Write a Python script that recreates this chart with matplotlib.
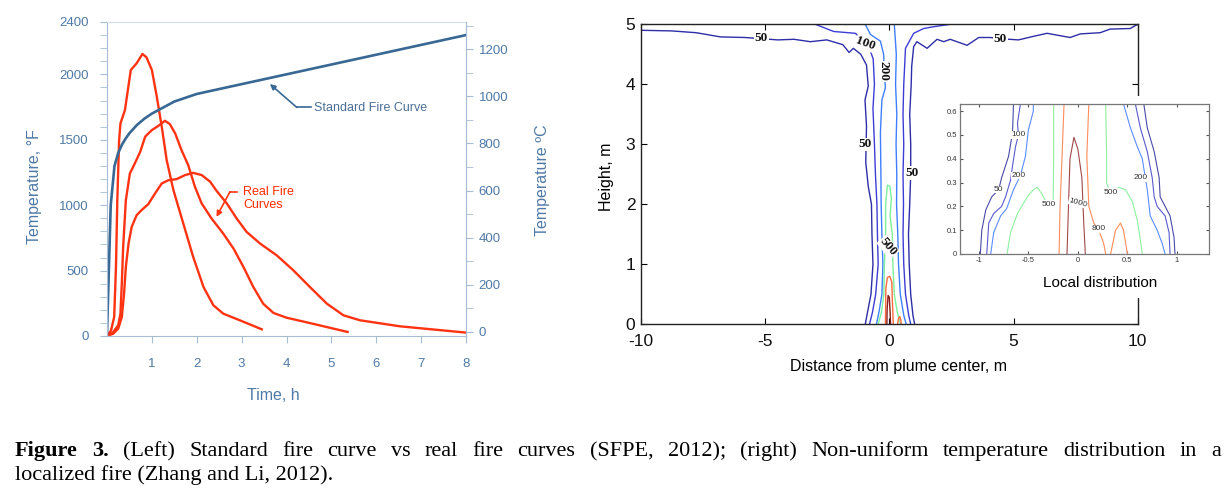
import matplotlib
matplotlib.use('Agg')
import matplotlib.pyplot as plt
from matplotlib.patches import Rectangle
from matplotlib.ticker import MultipleLocator

plt.rcParams['font.family'] = ['Liberation Sans', 'DejaVu Sans']
plt.rcParams['axes.unicode_minus'] = False

W, H = 1231, 500

# ---------------- left panel data (time in h, temperature in degF)
std_t = [0, 0.083, 0.167, 0.25, 0.333, 0.417, 0.5, 0.667, 0.833, 1, 1.5, 2, 3, 4, 5, 6, 7, 8]
std_T = [20, 1000, 1300, 1399, 1462, 1510, 1550, 1613, 1661, 1700, 1792, 1850, 1925, 2000, 2075, 2150, 2225, 2300]

fire1_t = [0, 0.09, 0.16, 0.20, 0.23, 0.27, 0.30, 0.40, 0.53, 0.66, 0.79, 0.88, 1.00, 1.11, 1.22,
           1.33, 1.48, 1.70, 1.92, 2.15, 2.37, 2.59, 2.96, 3.45]
fire1_T = [0, 43, 145, 528, 1038, 1497, 1625, 1727, 2033, 2084, 2156, 2130, 2033, 1829, 1600,
           1344, 1115, 860, 605, 375, 235, 171, 120, 51]

fire2_t = [0, 0.14, 0.25, 0.30, 0.33, 0.36, 0.42, 0.51, 0.62, 0.74, 0.85, 1.00, 1.14, 1.29, 1.40,
           1.52, 1.66, 1.81, 1.96, 2.11, 2.33, 2.59, 2.82, 3.04, 3.26, 3.48, 3.71, 4.00, 4.52, 5.36]
fire2_T = [0, 31, 82, 171, 400, 681, 1038, 1242, 1319, 1408, 1523, 1574, 1605, 1645, 1620,
           1548, 1421, 1306, 1140, 1013, 898, 783, 668, 528, 375, 247, 176, 140, 99, 31]

fire3_t = [0, 0.14, 0.25, 0.33, 0.38, 0.42, 0.48, 0.55, 0.66, 0.77, 0.92, 1.07, 1.22, 1.37, 1.55,
           1.74, 1.92, 2.11, 2.30, 2.44, 2.67, 2.89, 3.11, 3.41, 3.78, 4.15, 4.52, 4.90, 5.27, 5.64,
           6.53, 8.0]
fire3_T = [0, 18, 56, 145, 324, 528, 707, 834, 923, 962, 1008, 1089, 1166, 1191, 1199,
           1230, 1247, 1230, 1179, 1110, 1013, 898, 796, 707, 617, 503, 375, 247, 158, 120,
           74, 26]

time_ticks = [1, 2, 3, 4, 5, 6, 7, 8]
degF_ticks = [0, 500, 1000, 1500, 2000, 2400]
degC_ticks = [0, 200, 400, 600, 800, 1000, 1200]

# ---------------- right panel contour lines (x in m, height in m)
m50_left = [(-10, 4.9), (-8.77, 4.89), (-7.78, 4.86), (-6.8, 4.79), (-5.81, 4.78), (-4.49, 4.74),
            (-3.84, 4.75), (-3.18, 4.71), (-2.52, 4.74), (-1.87, 4.66), (-1.62, 4.53), (-1.45, 4.6),
            (-1.15, 4.5), (-0.92, 4.32), (-0.85, 3.97), (-0.98, 3.74), (-0.92, 3.3), (-0.95, 2.7),
            (-0.85, 2.3), (-0.72, 2.0), (-0.7, 1.5), (-0.66, 1.0), (-0.74, 0.5), (-0.88, 0.2), (-0.97, 0)]
m100_left = [(-2.98, 5.0), (-2.24, 4.88), (-1.37, 4.85), (-1.1, 4.75), (-0.8, 4.6), (-0.65, 4.42),
             (-0.6, 4.0), (-0.66, 3.6), (-0.6, 3.0), (-0.56, 2.5), (-0.5, 2.0), (-0.48, 1.5),
             (-0.45, 1.0), (-0.55, 0.5), (-0.68, 0.2), (-0.8, 0)]
m200_left = [(-0.97, 5.0), (-0.76, 4.83), (-0.36, 4.72), (-0.23, 4.5), (-0.2, 4.2), (-0.16, 3.94),
             (-0.3, 3.74), (-0.36, 3.2), (-0.34, 2.5), (-0.33, 2.0), (-0.3, 1.5), (-0.26, 1.0),
             (-0.3, 0.5), (-0.42, 0.2), (-0.52, 0)]
m200_right = [(0.2, 5.0), (0.28, 4.5), (0.25, 4.0), (0.3, 3.5), (0.27, 3.0), (0.3, 2.5), (0.29, 2.0),
              (0.34, 1.5), (0.37, 1.0), (0.44, 0.5), (0.58, 0.15), (0.68, 0)]
m100_right = [(2.45, 5.0), (1.79, 4.96), (1.38, 4.93), (0.98, 4.85), (0.65, 4.6), (0.58, 4.0),
              (0.55, 3.5), (0.58, 3.0), (0.55, 2.5), (0.57, 2.0), (0.55, 1.5), (0.58, 1.0),
              (0.65, 0.5), (0.78, 0.15), (0.86, 0)]
m50_right = [(10.0, 5.0), (9.7, 4.93), (8.89, 4.92), (8.49, 4.86), (7.69, 4.84), (7.28, 4.78),
             (6.35, 4.85), (5.81, 4.8), (5.2, 4.74), (4.47, 4.76), (4.07, 4.78), (3.6, 4.78),
             (3.13, 4.65), (2.45, 4.75), (2.19, 4.71), (1.92, 4.75), (1.52, 4.6), (1.11, 4.71),
             (0.98, 4.63), (0.9, 4.3), (0.88, 4.0), (0.82, 3.5), (0.86, 3.0), (0.86, 2.5),
             (0.82, 2.0), (0.77, 1.5), (0.8, 1.0), (0.86, 0.5), (0.95, 0.15), (1.02, 0)]
m500 = [(-0.45, 0), (-0.32, 0.2), (-0.22, 0.5), (-0.2, 1.0), (-0.15, 1.5), (-0.15, 2.0), (-0.08, 2.32),
        (0.02, 2.3), (0.08, 2.1), (0.03, 1.8), (0.12, 1.5), (0.14, 1.0), (0.2, 0.5), (0.32, 0.2),
        (0.45, 0)]
m800 = [(-0.16, 0), (-0.15, 0.3), (-0.14, 0.6), (-0.08, 0.78), (0.02, 0.8), (0.1, 0.7), (0.12, 0.4),
        (0.15, 0.1), (0.16, 0)]
m800_bump = [(0.33, 0), (0.37, 0.1), (0.42, 0.13), (0.46, 0.08), (0.48, 0)]
m1000 = [(-0.1, 0), (-0.09, 0.25), (-0.05, 0.48), (0.0, 0.45), (0.03, 0.2), (0.05, 0)]

# inset (local distribution)
i50_left = [(-0.985, 0), (-0.97, 0.10), (-0.93, 0.185), (-0.87, 0.24), (-0.8, 0.27), (-0.77, 0.32),
            (-0.7, 0.41), (-0.66, 0.51), (-0.65, 0.63)]
i100_left = [(-0.92, 0), (-0.9, 0.13), (-0.85, 0.17), (-0.77, 0.2), (-0.73, 0.24), (-0.68, 0.31),
             (-0.66, 0.37), (-0.63, 0.45), (-0.6, 0.5), (-0.61, 0.55), (-0.58, 0.63)]
i200_left = [(-0.88, 0), (-0.85, 0.09), (-0.78, 0.16), (-0.72, 0.19), (-0.65, 0.27), (-0.58, 0.33),
             (-0.53, 0.41), (-0.5, 0.52), (-0.45, 0.6), (-0.45, 0.63)]
i500_left = [(-0.715, 0), (-0.68, 0.09), (-0.61, 0.17), (-0.51, 0.24), (-0.45, 0.27), (-0.41, 0.28),
             (-0.36, 0.25), (-0.3, 0.2), (-0.25, 0.22), (-0.245, 0.4), (-0.245, 0.63)]
i800_left = [(-0.19, 0), (-0.18, 0.2), (-0.16, 0.41), (-0.14, 0.63)]
i1000 = [(-0.11, 0), (-0.09, 0.27), (-0.08, 0.4), (-0.04, 0.49), (0.0, 0.44), (0.04, 0.32),
         (0.06, 0.12), (0.075, 0)]
i800_right = [(0.11, 0.63), (0.09, 0.41), (0.11, 0.2), (0.16, 0.13), (0.21, 0.1), (0.26, 0.045), (0.28, 0)]
i800_bump = [(0.33, 0), (0.38, 0.1), (0.43, 0.13), (0.46, 0.1), (0.5, 0)]
i500_right = [(0.28, 0.63), (0.29, 0.41), (0.29, 0.3), (0.33, 0.25), (0.41, 0.28), (0.48, 0.27),
              (0.55, 0.22), (0.6, 0.14), (0.63, 0.06), (0.65, 0)]
i200_right = [(0.46, 0.63), (0.53, 0.53), (0.6, 0.45), (0.65, 0.4), (0.68, 0.32), (0.7, 0.27),
              (0.73, 0.16), (0.8, 0.1), (0.85, 0.045), (0.88, 0)]
i100_right = [(0.58, 0.63), (0.63, 0.53), (0.7, 0.43), (0.75, 0.32), (0.77, 0.24), (0.8, 0.2),
              (0.88, 0.16), (0.92, 0.09), (0.93, 0)]
i50_right = [(0.665, 0.63), (0.7, 0.53), (0.77, 0.43), (0.82, 0.32), (0.83, 0.24), (0.88, 0.2),
             (0.93, 0.16), (0.97, 0.07), (0.98, 0)]

caption1 = ("Figure 3. (Left) Standard fire curve vs real fire curves (SFPE, 2012); (right) "
            "Non-uniform temperature distribution in a")
caption2 = "localized fire (Zhang and Li, 2012)."


def px_box(x0, y0, x1, y1):
    return [x0 / W, 1 - y1 / H, (x1 - x0) / W, (y1 - y0) / H]


fig = plt.figure(figsize=(W / 100, H / 100), dpi=100)

# ================= left panel
spine_c = '#a9bcd5'
lab_c = '#4f79a6'
axL = fig.add_axes(px_box(107, 22, 466, 336))
axL.plot(fire1_t, fire1_T, color='#ff3311', lw=1.7, solid_joinstyle='round')
axL.plot(fire2_t, fire2_T, color='#ff3311', lw=1.7, solid_joinstyle='round')
axL.plot(fire3_t, fire3_T, color='#ff3311', lw=1.7, solid_joinstyle='round')
axL.plot(std_t, std_T, color='#386893', lw=1.9, solid_joinstyle='round')
axL.set_xlim(0, 8)
axL.set_ylim(0, 2400)
axL.set_xticks(time_ticks)
axL.set_yticks(degF_ticks)
axL.yaxis.set_minor_locator(MultipleLocator(100))
for s in axL.spines.values():
    s.set_color(spine_c)
axL.spines['top'].set_color('#d3dde9')
axL.tick_params(axis='both', which='both', direction='out', color=spine_c, labelcolor=lab_c,
                labelsize=9.5, length=5)
axL.tick_params(axis='x', pad=11)
axL.tick_params(axis='y', pad=8)

axC = axL.twinx()
axC.set_ylim((0 - 32) / 1.8, (2400 - 32) / 1.8)
axC.set_yticks(degC_ticks)
axC.yaxis.set_minor_locator(MultipleLocator(100))
for name, s in axC.spines.items():
    s.set_visible(name == 'right')
    s.set_color(spine_c)
axC.tick_params(axis='y', which='both', direction='out', color=spine_c, labelcolor=lab_c,
                labelsize=9.5, length=5, pad=4)

# annotations
blue_txt = '#4a6f97'
axL.plot([4.23, 4.55], [1747, 1747], color='#386893', lw=1.2)
axL.annotate('', xy=(3.63, 1926), xytext=(4.23, 1747),
             arrowprops=dict(arrowstyle='-|>', color='#386893', lw=1.2, mutation_scale=8,
                             shrinkA=0, shrinkB=0))
axL.text(4.62, 1745, 'Standard Fire Curve', color=blue_txt, fontsize=9, va='center')
axL.plot([2.89, 2.74], [1102, 1102], color='#ff3311', lw=1.2)
axL.annotate('', xy=(2.44, 911), xytext=(2.74, 1102),
             arrowprops=dict(arrowstyle='-|>', color='#ff3311', lw=1.2, mutation_scale=8,
                             shrinkA=0, shrinkB=0))
axL.text(3.04, 1050, 'Real Fire\nCurves', color='#ff2a00', fontsize=9, va='center',
         linespacing=1.1)

fig.text(35 / W, 1 - 187 / H, 'Temperature, \u00b0F', rotation=90, ha='center', va='center',
         color=lab_c, fontsize=11.5)
fig.text(543 / W, 1 - 180 / H, 'Temperature \u00baC', rotation=90, ha='center', va='center',
         color=lab_c, fontsize=11.5)
fig.text(273 / W, 1 - 396 / H, 'Time, h', ha='center', va='center', color=lab_c, fontsize=11.5)

# ================= right panel
c50, c100, c200 = '#2e2ea8', '#3c3cd6', '#3f7fff'
c500, c800, c1000 = '#7cf09a', '#ff6a3d', '#8b1a1a'
axM = fig.add_axes(px_box(641, 24.3, 1137.7, 324.3))
for line, col in [(m50_left, c50), (m100_left, c100), (m200_left, c200), (m200_right, c200),
                  (m100_right, c100), (m50_right, c50), (m500, c500), (m800, c800),
                  (m800_bump, c800), (m1000, c1000)]:
    xs, ys = zip(*line)
    axM.plot(xs, ys, color=col, lw=1.0)
axM.set_xlim(-10, 10)
axM.set_ylim(0, 5)
axM.set_xticks([-10, -5, 0, 5, 10])
axM.set_yticks([0, 1, 2, 3, 4, 5])
axM.tick_params(direction='in', top=True, right=True, length=4, labelsize=12.5,
                labelcolor='#111111')
axM.tick_params(axis='x', pad=7)
axM.tick_params(axis='y', pad=4)
for s in axM.spines.values():
    s.set_linewidth(1.0)
    s.set_color('#222222')

lab_kw = dict(family=['Liberation Serif', 'DejaVu Serif'], weight='bold', fontsize=9.5,
              ha='center', va='center', color='#111111',
              bbox=dict(facecolor='white', edgecolor='none', pad=0.5))
for txt, x, y, rot in [('50', -5.15, 4.77, 0), ('100', -0.95, 4.68, -20), ('200', -0.22, 4.22, -90),
                       ('50', -1.0, 3.0, 0), ('50', 0.9, 2.52, 0), ('50', 4.47, 4.76, 0),
                       ('500', -0.05, 1.29, -50)]:
    axM.text(x, y, txt, rotation=rot, **lab_kw)

fig.text(607 / W, 1 - 177 / H, 'Height, m', rotation=90, ha='center', va='center', fontsize=11.5)
fig.text(899 / W, 1 - 366 / H, 'Distance from plume center, m', ha='center', va='center',
         fontsize=11.5)

# white backdrop under the inset
fig.patches.append(Rectangle((930 / W, 1 - 298 / H), 285 / W, 202 / H, transform=fig.transFigure,
                             facecolor='white', edgecolor='none', zorder=1.5))

ic50, ic100, ic200 = '#4a4aa8', '#5a5ad0', '#5b8cff'
ic500, ic800, ic1000 = '#8ef0a0', '#ff8c5a', '#a04848'
axI = fig.add_axes(px_box(960, 104, 1208.7, 254))
axI.set_zorder(2)
for line, col in [(i50_left, ic50), (i100_left, ic100), (i200_left, ic200), (i500_left, ic500),
                  (i800_left, ic800), (i1000, ic1000), (i800_right, ic800), (i800_bump, ic800),
                  (i500_right, ic500), (i200_right, ic200), (i100_right, ic100), (i50_right, ic50)]:
    xs, ys = zip(*line)
    axI.plot(xs, ys, color=col, lw=0.8)
axI.set_xlim(-1.19, 1.32)
axI.set_ylim(0, 0.63)
axI.set_xticks([-1, -0.5, 0, 0.5, 1])
axI.set_xticklabels(['-1', '-0.5', '0', '0.5', '1'])
axI.set_yticks([0, 0.1, 0.2, 0.3, 0.4, 0.5, 0.6])
axI.set_yticklabels(['0', '0.1', '0.2', '0.3', '0.4', '0.5', '0.6'])
axI.tick_params(direction='in', top=True, right=True, length=2.5, labelsize=5.5, pad=2,
                labelcolor='#333333', color='#555555')
for s in axI.spines.values():
    s.set_color('#777777')
    s.set_linewidth(0.9)
ilab_kw = dict(fontsize=6, ha='center', va='center', color='#333333',
               bbox=dict(facecolor='white', edgecolor='none', pad=0.2))
for txt, x, y, rot in [('50', -0.8, 0.27, 0), ('100', -0.6, 0.5, 0), ('200', -0.6, 0.33, 0),
                       ('500', -0.29, 0.21, 0), ('1000', 0.0, 0.215, -15), ('500', 0.33, 0.26, 0),
                       ('800', 0.21, 0.105, 0), ('200', 0.63, 0.32, 0)]:
    axI.text(x, y, txt, rotation=rot, **ilab_kw)
fig.text(1100 / W, 1 - 283 / H, 'Local distribution', ha='center', va='center', fontsize=11)

# ================= caption (first line justified)
serif = ['Liberation Serif', 'DejaVu Serif']
cap_size = 16
renderer = fig.canvas.get_renderer()
words = caption1.split(' ')
objs = []
for i, w in enumerate(words):
    t = fig.text(0, 1 - 456 / H, w, fontsize=cap_size, family=serif, va='baseline',
                 weight='bold' if i < 2 else 'normal')
    objs.append(t)
widths = [t.get_window_extent(renderer).width for t in objs]
x_left, x_right = 15, 1221
gap = (x_right - x_left - sum(widths)) / (len(words) - 1)
x = x_left
for t, w in zip(objs, widths):
    t.set_x(x / W)
    x += w + gap
fig.text(15 / W, 1 - 480 / H, caption2, fontsize=cap_size, family=serif, va='baseline')

fig.savefig('out.png', dpi=100)
